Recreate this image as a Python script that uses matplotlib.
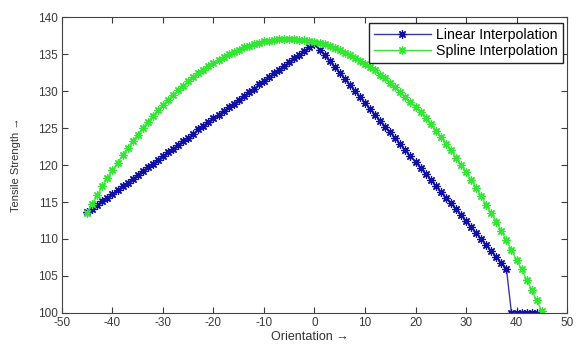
import matplotlib

matplotlib.use("Agg")
import matplotlib.pyplot as plt

# orientation (deg) and tensile strength
linear_x = list(range(-45, 45))
linear_y = [
    113.6, 114.1, 114.6, 115.1, 115.6, 116.1, 116.6, 117.1, 117.6, 118.1,
    118.7, 119.2, 119.7, 120.2, 120.7, 121.2, 121.7, 122.2, 122.7, 123.2,
    123.7, 124.2, 124.8, 125.3, 125.8, 126.3, 126.8, 127.3, 127.8, 128.3,
    128.8, 129.3, 129.8, 130.3, 130.9, 131.4, 131.9, 132.4, 132.9, 133.4,
    133.9, 134.4, 134.9, 135.4, 135.9, 136.4,
    135.6, 134.8, 134.0, 133.2, 132.4, 131.6, 130.8, 130.0, 129.2, 128.4,
    127.6, 126.8, 126.0, 125.2, 124.4, 123.6, 122.8, 122.0, 121.2, 120.4,
    119.6, 118.8, 118.0, 117.2, 116.4, 115.6, 114.8, 114.0, 113.2, 112.4,
    111.6, 110.8, 110.0, 109.2, 108.4, 107.6, 106.8, 106.0,
    100.0, 100.0, 100.0, 100.0, 100.0, 100.0,
]

spline_x = list(range(-45, 46))
spline_y = [
    113.5, 114.7, 115.9, 117.1, 118.2, 119.3, 120.3, 121.3, 122.3, 123.2,
    124.1, 125.0, 125.8, 126.6, 127.4, 128.1, 128.8, 129.5, 130.1, 130.7,
    131.3, 131.9, 132.4, 132.9, 133.4, 133.8, 134.2, 134.6, 135.0, 135.3,
    135.6, 135.9, 136.1, 136.3, 136.5, 136.7, 136.8, 136.9, 137.0, 137.0,
    137.0, 137.0, 136.9, 136.9, 136.8, 136.6, 136.5, 136.3, 136.1, 135.8,
    135.5, 135.2, 134.9, 134.5, 134.1, 133.7, 133.2, 132.8, 132.2, 131.7,
    131.1, 130.5, 129.9, 129.2, 128.5, 127.8, 127.1, 126.3, 125.5, 124.6,
    123.8, 122.9, 122.0, 121.0, 120.0, 119.0, 118.0, 116.9, 115.8, 114.6,
    113.5, 112.3, 111.1, 109.8, 108.5, 107.2, 105.9, 104.5, 103.1, 101.7,
    100.3,
]

x_ticks = list(range(-50, 51, 10))
y_ticks = list(range(100, 141, 5))

plt.rcParams["font.family"] = ["Liberation Sans", "DejaVu Sans"]
plt.rcParams["axes.unicode_minus"] = False

# matlab style asterisk: + and x on top of each other
ASTERISK = (8, 2, 0)

fig = plt.figure(figsize=(5.76, 3.48), dpi=100)
ax = fig.add_axes([0.1076, 0.1006, 0.8768, 0.8505])

ax.plot(linear_x, linear_y, color="#3a3aa6", linewidth=1.0, marker=ASTERISK,
        markersize=6, markeredgewidth=0.9, markeredgecolor="#1010a4",
        label="Linear Interpolation")
ax.plot(spline_x, spline_y, color="#3ae83a", linewidth=1.0, marker=ASTERISK,
        markersize=6, markeredgewidth=0.9, markeredgecolor="#33e633",
        label="Spline Interpolation")

ax.set_xlim(-50, 50)
ax.set_ylim(100, 140)
ax.set_xticks(x_ticks)
ax.set_yticks(y_ticks)
ax.tick_params(direction="in", top=True, right=True, length=4, width=0.8,
               labelsize=8.5, colors="#3a3a3a", pad=3)
for sp in ax.spines.values():
    sp.set_color("#444444")
    sp.set_linewidth(0.8)

ax.set_xlabel("Orientation \u2192", fontsize=9, color="#333333")
ax.set_ylabel("Tensile Strength \u2192", fontsize=8, color="#333333")
ax.xaxis.set_label_coords(0.49, -0.06)
ax.yaxis.set_label_coords(-0.082, 0.5)

leg = ax.legend(loc="upper right", bbox_to_anchor=(0.992, 0.98),
                borderaxespad=0, fontsize=10.2, fancybox=False, framealpha=1,
                edgecolor="#222222", handlelength=4.0, handletextpad=0.4,
                borderpad=0.35, labelspacing=0.12)
leg.get_frame().set_linewidth(1.0)

fig.savefig("out.png", dpi=100)
